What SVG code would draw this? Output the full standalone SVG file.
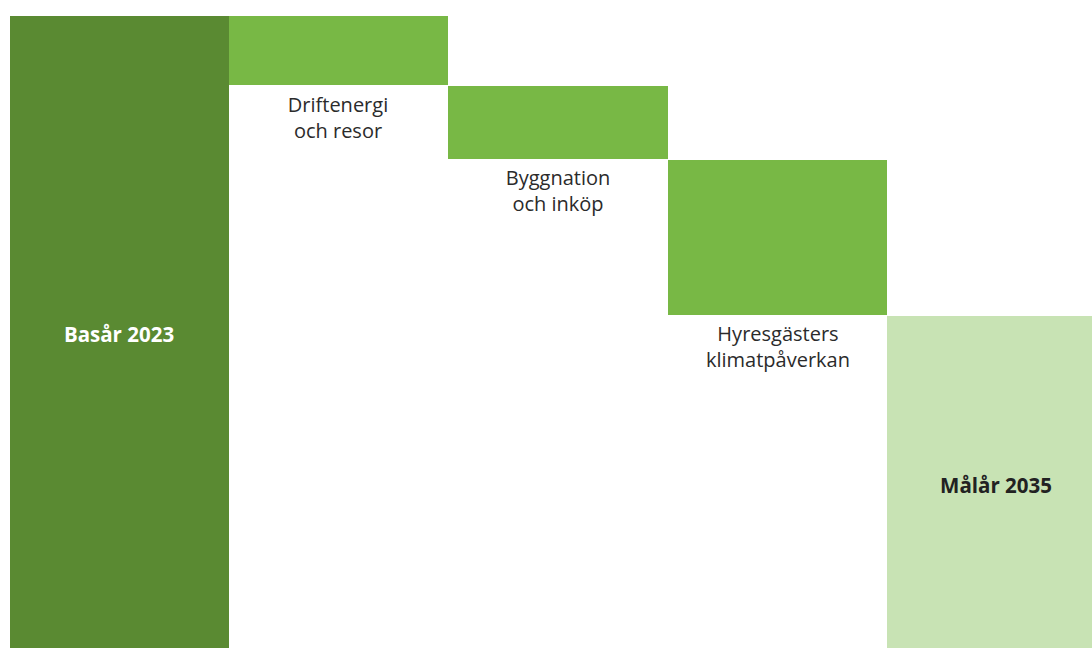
<svg xmlns="http://www.w3.org/2000/svg" width="1092" height="648" viewBox="0 0 1092 648">
<style>
.dark{fill:#5a8a32}
.mid{fill:#78b845}
.light{fill:#c8e3b4}
.lbl{font-family:"Open Sans","Liberation Sans",Arial,sans-serif;font-size:20px;fill:#2b2b2b;text-anchor:middle}
.bold{font-family:"Open Sans","Liberation Sans",Arial,sans-serif;font-size:20.5px;font-weight:bold;text-anchor:middle}
</style>
<rect width="1092" height="648" fill="#ffffff"/>
<g id="base">
<rect class="dark" x="10" y="16" width="219" height="632"/>
<text class="bold" x="119" y="342" fill="#ffffff">Basår 2023</text>
</g>
<g id="drift">
<rect class="mid" x="229" y="16" width="219" height="69"/>
<text class="lbl" x="338" y="112">Driftenergi</text>
<text class="lbl" x="338" y="138">och resor</text>
</g>
<g id="bygg">
<rect class="mid" x="448" y="86" width="220" height="73"/>
<text class="lbl" x="558" y="185">Byggnation</text>
<text class="lbl" x="558" y="211">och inköp</text>
</g>
<g id="hyres">
<rect class="mid" x="668" y="160" width="219" height="155"/>
<text class="lbl" x="778" y="341">Hyresgästers</text>
<text class="lbl" x="778" y="367">klimatpåverkan</text>
</g>
<g id="mal">
<rect class="light" x="887" y="316" width="205" height="332"/>
<text class="bold" x="996" y="493" fill="#222222">Målår 2035</text>
</g>
<g id="connectors"></g>
</svg>
